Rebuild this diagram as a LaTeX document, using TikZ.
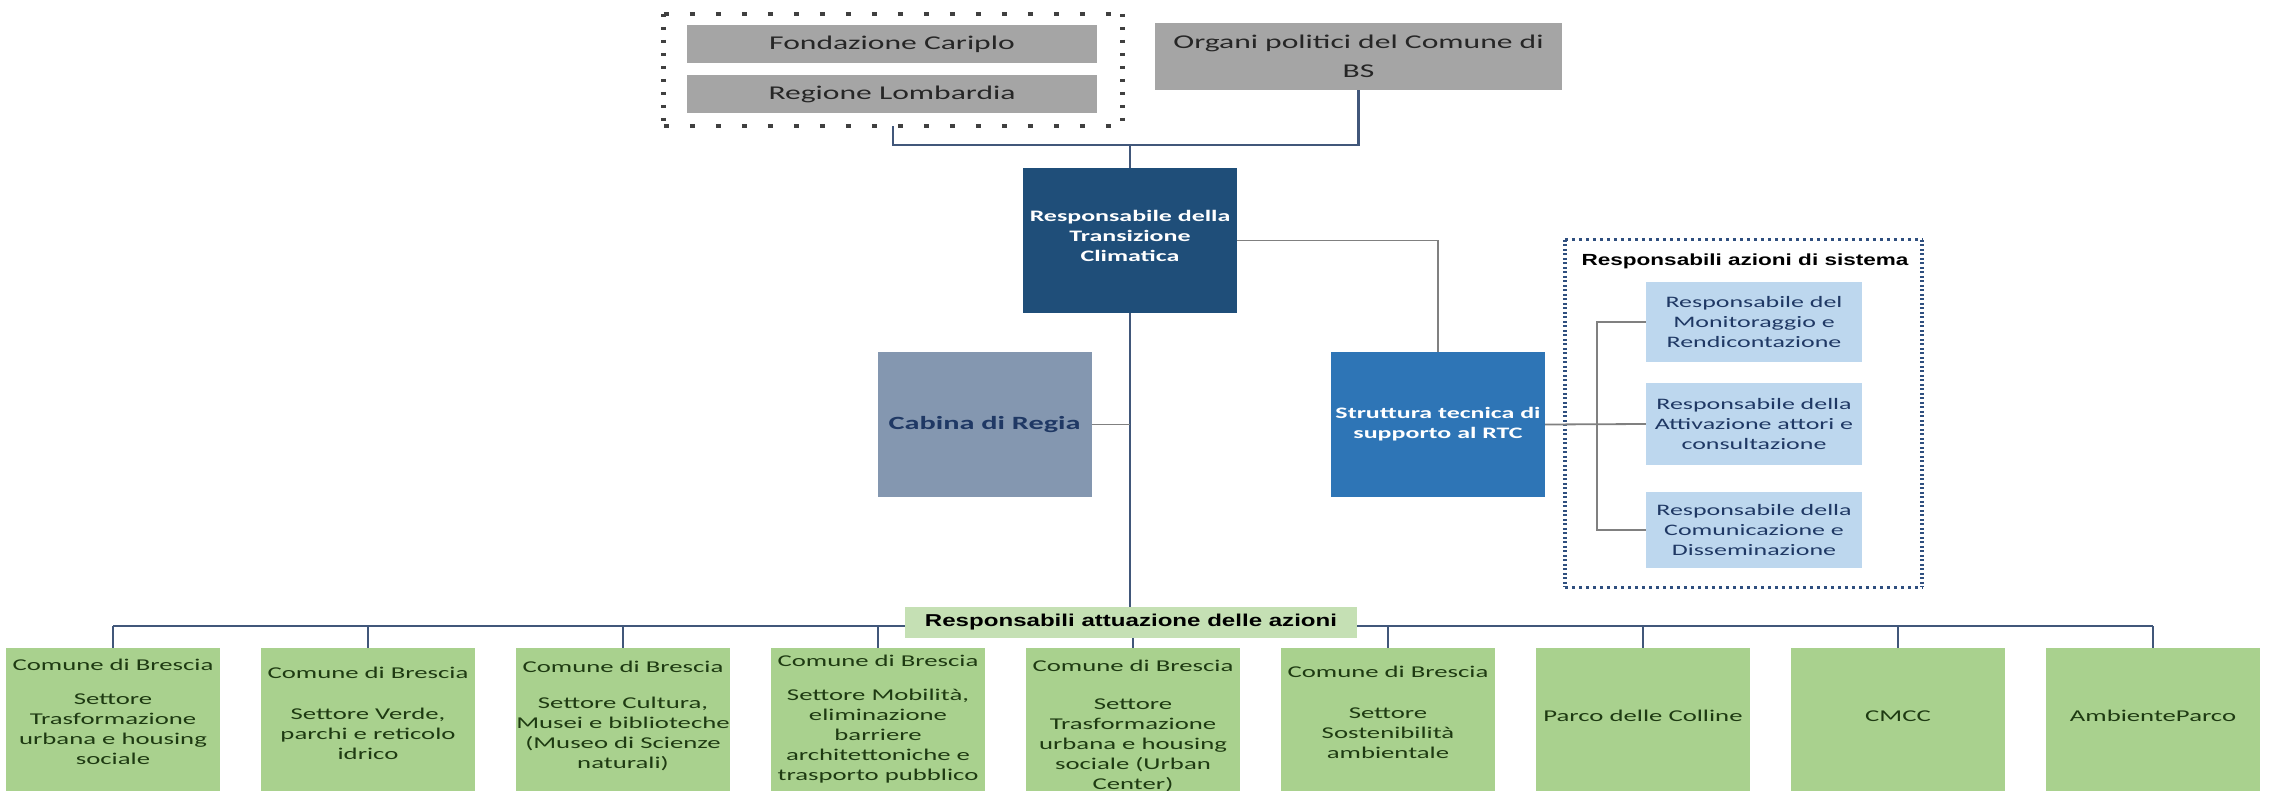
\documentclass[tikz,border=0pt]{standalone}
\usepackage{fontspec}
\setmainfont{Carlito}[FakeStretch=1.62]
\newfontfamily\labfont{Liberation Sans}[FakeStretch=1.4]
\definecolor{grayfill}{HTML}{A5A5A5}
\definecolor{graytext}{HTML}{262626}
\definecolor{rtcblue}{HTML}{1F4E79}
\definecolor{cabfill}{HTML}{8497B0}
\definecolor{strblue}{HTML}{2E75B6}
\definecolor{ltblue}{HTML}{BDD7EE}
\definecolor{navy}{HTML}{1F3864}
\definecolor{lgreen}{HTML}{C5E0B4}
\definecolor{gfill}{HTML}{A9D18E}
\definecolor{gtext}{HTML}{1E3A12}
\definecolor{lineblue}{HTML}{41577A}
\definecolor{linegray}{HTML}{808080}
\definecolor{dotgray}{HTML}{404040}
\definecolor{dotblue}{HTML}{2F4F7F}
\tikzset{
  box/.style={rectangle, draw=none, inner sep=0pt, align=center},
  graybox/.style={box, fill=grayfill, text=graytext, minimum width=410pt, minimum height=38pt,
    font=\fontsize{19.5}{28.5}\selectfont},
  bigbox/.style={box, minimum width=214pt, minimum height=145pt},
  sysbox/.style={box, fill=ltblue, text=navy, minimum width=216pt,
    font=\fontsize{16}{20}\selectfont},
  greenbox/.style={box, fill=gfill, minimum width=214pt, minimum height=172pt},
  greentext/.style={box, text=gtext, font=\fontsize{16.5}{20}\selectfont},
  conn/.style={draw=lineblue, line width=2.2pt},
  thinconn/.style={draw=linegray, line width=1.8pt},
}
\begin{document}
\begin{tikzpicture}[x=1pt, y=-1pt]
\useasboundingbox (0,0) rectangle (2274,791);
\clip (0,0) rectangle (2274,791);

% top group
\node[box, minimum width=458pt, minimum height=112pt] (fr) at (893,70) {};
\node[graybox] (fond) at (892,44) {Fondazione Cariplo};
\node[graybox] (reg) at (892,94) {Regione Lombardia};
\draw[dotgray, line width=4pt, dash pattern=on 5pt off 21pt] (fr.north west) -- (fr.north east);
\draw[dotgray, line width=4pt, dash pattern=on 5pt off 21pt] (fr.south west) -- (fr.south east);
\draw[dotgray, line width=5pt, dash pattern=on 3pt off 10pt] (fr.north west) -- (fr.south west);
\draw[dotgray, line width=5pt, dash pattern=on 3pt off 10pt] (fr.north east) -- (fr.south east);
\node[graybox, minimum width=407pt, minimum height=67pt] (org) at (1358.5,56.5)
  {Organi politici del Comune di\\BS};

% RTC
\node[bigbox, fill=rtcblue] (rtc) at (1130,240.5) {};
\node[box, text=white, font=\bfseries\fontsize{16}{20}\selectfont] (rtct) at (1130,236)
  {Responsabile della\\Transizione\\Climatica};
\coordinate (tj) at (1130,145);
\draw[conn] (fr.south) |- (tj) -| (org.south);
\draw[conn] (tj) -- (rtc.north);

% Cabina and Struttura
\node[bigbox, fill=cabfill, text=navy, font=\bfseries\fontsize{18.7}{22}\selectfont] (cab) at (984.5,424.5)
  {Cabina di Regia};
\node[bigbox, fill=strblue, text=white, font=\bfseries\fontsize{16}{20}\selectfont] (str) at (1438,424.5)
  {Struttura tecnica di\\supporto al RTC};
\draw[thinconn] (rtc.east) -| (str.north);

% system group
\node[box, minimum width=357pt, minimum height=347pt] (sys) at (1743.5,413.5) {};
\draw[dotblue, line width=3pt, dash pattern=on 3pt off 4pt] (sys.north west) -- (sys.north east);
\draw[dotblue, line width=3pt, dash pattern=on 3pt off 4pt] (sys.south west) -- (sys.south east);
\draw[dotblue, line width=4pt, dash pattern=on 2pt off 2.5pt] (sys.north west) -- (sys.south west);
\draw[dotblue, line width=4pt, dash pattern=on 2pt off 2.5pt] (sys.north east) -- (sys.south east);
\node[box, font=\labfont\bfseries\fontsize{16.1}{19}\selectfont] (systitle) at (1745,261)
  {Responsabili azioni di sistema};
\node[sysbox, minimum height=80pt] (lb1) at (1754,322)
  {Responsabile del\\Monitoraggio e\\Rendicontazione};
\node[sysbox, minimum height=82pt] (lb2) at (1754,424)
  {Responsabile della\\Attivazione attori e\\consultazione};
\node[sysbox, minimum height=76pt] (lb3) at (1754,530)
  {Responsabile della\\Comunicazione e\\Disseminazione};
\coordinate (sv) at (1597,424);
\draw[thinconn] (str.east) -- (lb2.west);
\draw[thinconn] (lb1.west) -- (lb1.west -| sv) -- (lb3.west -| sv) -- (lb3.west);

% bottom level
\coordinate (bus) at (1131,626);
\draw[conn] (rtc.south) -- (rtc.south |- bus);
\draw[thinconn] (cab.east) -- (cab.east -| rtc.south);

\node[greenbox] (g1) at (113,734) {};
\node[greenbox] (g2) at (368,734) {};
\node[greenbox] (g3) at (623,734) {};
\node[greenbox] (g4) at (878,734) {};
\node[greenbox] (g5) at (1133,734) {};
\node[greenbox] (g6) at (1388,734) {};
\node[greenbox] (g7) at (1643,734) {};
\node[greenbox] (g8) at (1898,734) {};
\node[greenbox] (g9) at (2153,734) {};

\draw[conn] (g1.north |- bus) -- (g9.north |- bus);
\foreach \g in {g1,g2,g3,g4,g5,g6,g7,g8,g9}
  \draw[conn] (\g.north |- bus) -- (\g.north);

\node[box, fill=lgreen, minimum width=452pt, minimum height=31pt,
  font=\labfont\bfseries\fontsize{17.2}{20}\selectfont] (lab) at (1131,622.5)
  {Responsabili attuazione delle azioni};

\node[greentext] (g1t) at (113,712)
  {Comune di Brescia\\[14pt]Settore\\Trasformazione\\urbana e housing\\sociale};
\node[greentext] (g2t) at (368,713)
  {Comune di Brescia\\[21pt]Settore Verde,\\parchi e reticolo\\idrico};
\node[greentext] (g3t) at (623,716)
  {Comune di Brescia\\[16pt]Settore Cultura,\\Musei e biblioteche\\(Museo di Scienze\\naturali)};
\node[greentext] (g4t) at (878,719)
  {Comune di Brescia\\[14pt]Settore Mobilità,\\eliminazione\\barriere\\architettoniche e\\trasporto pubblico};
\node[greentext] (g5t) at (1133,726)
  {Comune di Brescia\\[18pt]Settore\\Trasformazione\\urbana e housing\\sociale (Urban\\Center)};
\node[greentext] (g6t) at (1388,712)
  {Comune di Brescia\\[21pt]Settore\\Sostenibilità\\ambientale};
\node[greentext] (g7t) at (1643,716) {Parco delle Colline};
\node[greentext] (g8t) at (1898,716) {CMCC};
\node[greentext] (g9t) at (2153,716) {AmbienteParco};
\end{tikzpicture}
\end{document}
